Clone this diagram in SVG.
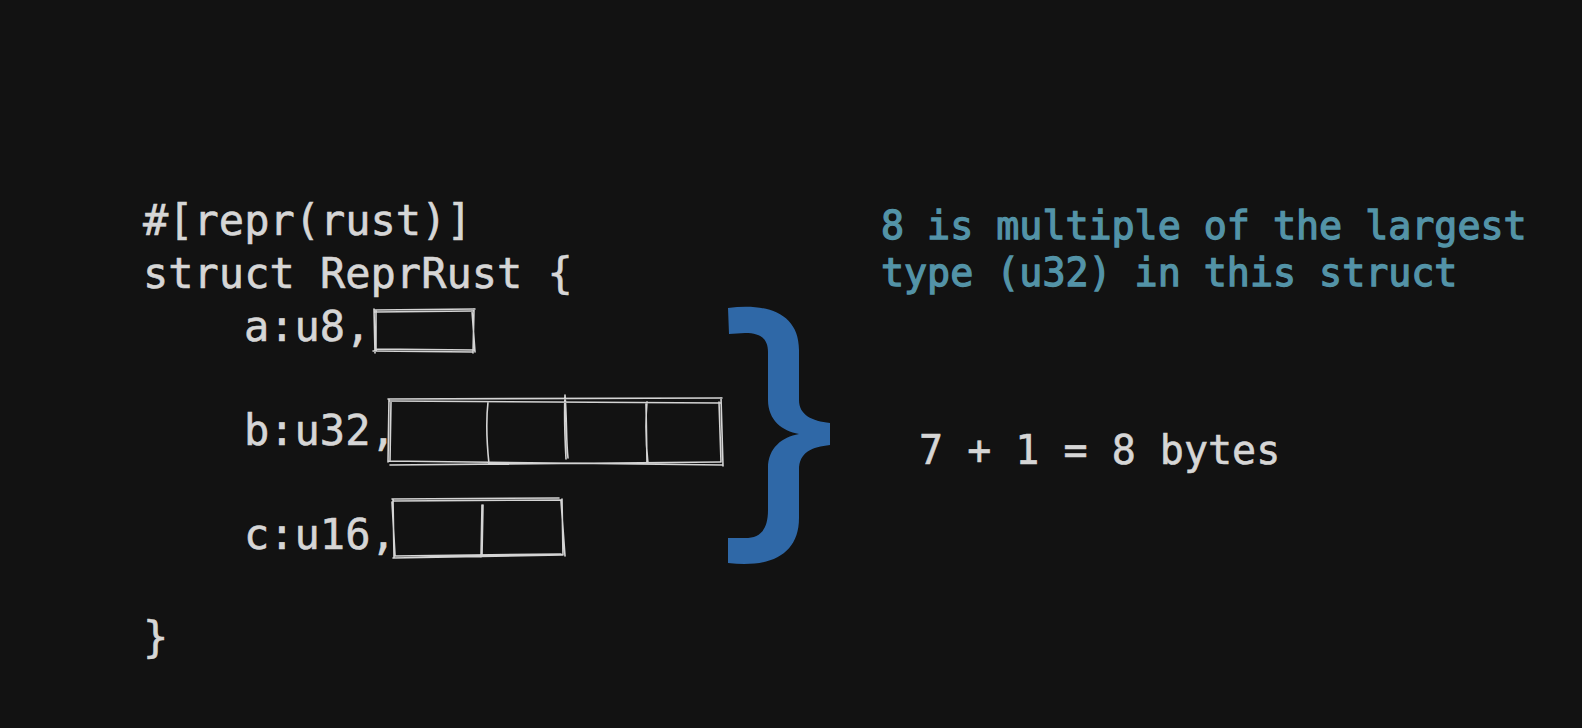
<svg xmlns="http://www.w3.org/2000/svg" width="1582" height="728" viewBox="0 0 1582 728">
<style>
.code{font-family:"DejaVu Sans Mono","Liberation Mono",monospace;font-size:42px;fill:#d6d6d6;stroke:#d6d6d6;stroke-width:0.6}
.note{font-family:"DejaVu Sans Mono","Liberation Mono",monospace;font-size:38.3px;fill:#5393a7;stroke:#5393a7;stroke-width:1.3}
.sum{font-family:"DejaVu Sans Mono","Liberation Mono",monospace;font-size:40px;fill:#d6d6d6;stroke:#d6d6d6;stroke-width:0.6}
.sk{fill:none;stroke:#d4d4d4;stroke-width:1.6;stroke-linecap:round;stroke-linejoin:round}
</style>
<rect width="1582" height="728" fill="#121212"/>
<g id="code">
<text class="code" x="143" y="235">#[repr(rust)]</text>
<text class="code" x="143" y="288">struct ReprRust {</text>
<text class="code" x="244" y="341">a:u8,</text>
<text class="code" x="244" y="445">b:u32,</text>
<text class="code" x="244" y="549">c:u16,</text>
<text class="code" x="143" y="652">}</text>
</g>
<g id="box-a">
<path class="sk" d="M374 310 L475 309 M375 312 L473 311 M374 309 L375 353 M376 311 L376 351 M373 351 L473 352 M375 349 L474 350 M474 309 L473 353 M472 311 L475 352"/>
</g>
<g id="box-b">
<path class="sk" d="M388 399 L722 398 M390 401 L721 403 M389 399 L388 462 M391 402 L390 460 M388 461 L723 465 M390 465 L720 462 M721 398 L723 466 M719 402 L721 462 M488 402 C486 420 487 445 489 464 M565 395 C567 420 566 440 568 458 M565 395 C564 415 565 440 566 459 M647 402 C645 425 646 445 648 464 M646 404 L647 464"/>
</g>
<g id="box-c">
<path class="sk" d="M392 499 L559 498 M394 501 L561 500 M393 499 L394 557 M392 502 L395 555 M394 556 L561 554 M393 558 L562 555 M562 499 L563 555 M561 501 L565 556 M482 505 L481 557 M483 505 L482 556"/>
</g>
<g id="brace">
<path fill="#2f68a7" d="M728 308 C765 303 799 312 799 350 L799 400 C799 415 812 421 830 423 L830 445 C812 447 799 452 799 470 L799 518 C799 555 770 568 728 563 L728 538 L745 538 C760 538 768 530 768 510 L768 468 C768 448 782 437 799 434 C782 431 768 420 768 400 L768 352 C768 338 760 333 745 333 L729 334 Z"/>
</g>
<g id="note">
<text class="note" x="881" y="239">8 is multiple of the largest</text>
<text class="note" x="881" y="286">type (u32) in this struct</text>
</g>
<g id="total">
<text class="sum" x="919" y="464">7 + 1 = 8 bytes</text>
</g>
</svg>
